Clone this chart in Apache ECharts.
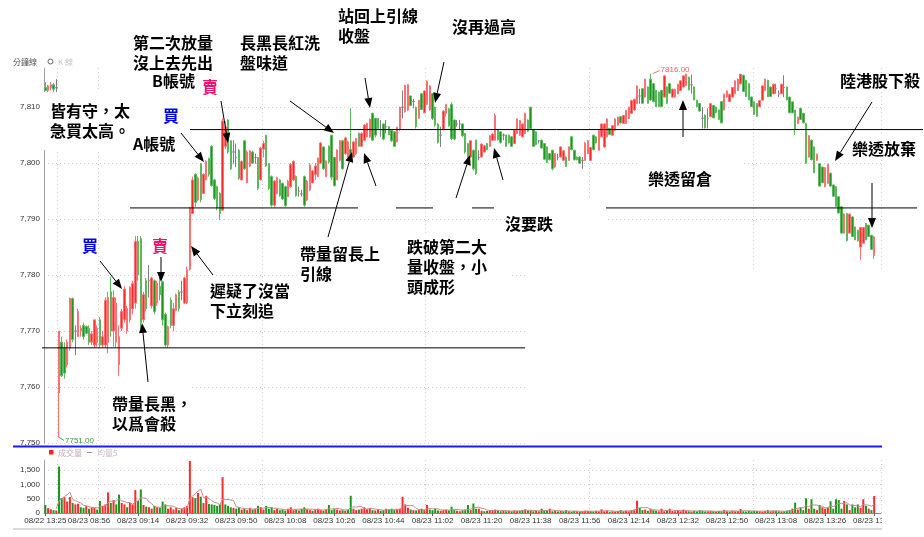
<!DOCTYPE html>
<html>
<head>
<meta charset="utf-8">
<script src="https://cdn.jsdelivr.net/npm/echarts@6/dist/echarts.min.js"></script>
<style>
html, body { margin: 0; padding: 0; background: #fff; }
#chart { width: 924px; height: 537px; }
</style>
</head>
<body>
<div id="chart"></div>
<script>
// ---- minute bars: last bars of 08/22, then the 08/23 session (08:45 - 13:44) ----
const prevDayTimes = ['08/22 13:25', '08/22 13:26', '08/22 13:27', '08/22 13:28', '08/22 13:29'];
const sessionTimes = [];
for (let m = 8 * 60 + 45; m <= 13 * 60 + 46; m++) {
  sessionTimes.push('08/23 ' + String(Math.floor(m / 60)).padStart(2, '0') + ':' + String(m % 60).padStart(2, '0'));
}
const categories = prevDayTimes.concat(sessionTimes);

const tickLabels = ['08/22 13:25', '08/23 08:56', '08/23 09:14', '08/23 09:32', '08/23 09:50', '08/23 10:08',
  '08/23 10:26', '08/23 10:44', '08/23 11:02', '08/23 11:20', '08/23 11:38', '08/23 11:56', '08/23 12:14',
  '08/23 12:32', '08/23 12:50', '08/23 13:08', '08/23 13:26', '08/23 13:44'];
// session open and the hour marks get a vertical guide
const guideTimes = ['08/23 08:45', '08/23 09:00', '08/23 10:00', '08/23 11:00', '08/23 12:00', '08/23 13:00'];

const opens = [
  7813.5, 7813, 7813.5, 7814, 7813.5, 7759, 7768, 7767, 7764, 7767,
  7775.8, 7770, 7769, 7770, 7771, 7770.8, 7770.5, 7768, 7767.5, 7768,
  7772, 7767.5, 7767.5, 7768, 7777, 7770, 7768, 7764, 7770.5, 7772,
  7770, 7772, 7774, 7775, 7786, 7786.5, 7772, 7779, 7779, 7774.5,
  7779, 7775, 7778, 7778.8, 7773, 7767.5, 7775.5, 7771, 7773.7, 7777,
  7777, 7775, 7775, 7781, 7791, 7798, 7793.4, 7799.9, 7794.6, 7797,
  7800.8, 7803, 7797, 7795.8, 7794.6, 7791.6, 7803, 7807.7, 7804, 7802,
  7801, 7802.3, 7797, 7804, 7796.5, 7799.5, 7802, 7801, 7801, 7797,
  7802.5, 7805, 7799.9, 7797.6, 7792.5, 7794.6, 7797, 7796.4, 7795.8, 7794,
  7795.8, 7797, 7797.6, 7795, 7794.5, 7797.6, 7793.4, 7795.2, 7796.5, 7798,
  7797.6, 7800, 7802.9, 7797.6, 7803, 7805, 7801, 7797, 7800.5, 7804,
  7801.7, 7801.2, 7802.5, 7801.1, 7801.7, 7805.3, 7803, 7804.1, 7804.7, 7804.7,
  7808.9, 7808, 7808, 7806, 7807, 7806.5, 7806.5, 7805.9, 7805.6, 7803.8,
  7806, 7810, 7809.2, 7809.5, 7812, 7811, 7810, 7808, 7812.4, 7809,
  7810.5, 7809.5, 7812.4, 7810, 7807, 7805, 7806, 7808.9, 7809.7, 7810.5,
  7807.7, 7807, 7807, 7807, 7805.3, 7803.5, 7801.1, 7802.3, 7804.1, 7801,
  7801.1, 7802, 7803.5, 7803, 7804.1, 7804.1, 7806, 7805.6, 7805, 7805,
  7805, 7804.7, 7803.5, 7805.3, 7805, 7804.7, 7805.3, 7807.7, 7810, 7806,
  7805.6, 7804, 7804.1, 7803.5, 7802.9, 7801.7, 7802.3, 7799.3, 7801, 7801.1,
  7800.5, 7801.1, 7800.5, 7804.7, 7802.3, 7801.1, 7801.1, 7800.5, 7800.5, 7801.7,
  7800.5, 7805, 7804.7, 7802.3, 7804.7, 7802.9, 7804.7, 7806.2, 7805, 7805.9,
  7806.8, 7808.3, 7807.1, 7807.1, 7808, 7808.9, 7809.5, 7810.65, 7812, 7813.3,
  7811.8, 7813.6, 7815, 7814.2, 7813, 7812.7, 7813, 7811.8, 7813.6, 7814.2,
  7811.8, 7811.8, 7812.4, 7813, 7813.6, 7813.9, 7815.4, 7814, 7813.6, 7811.25,
  7810.65, 7808, 7808.6, 7808, 7808.3, 7810.3, 7810, 7809.5, 7811, 7809.5,
  7811.8, 7811, 7811.8, 7812.4, 7813, 7814.2, 7815.7, 7814.8, 7814.2, 7811.8,
  7810.95, 7810.65, 7810.06, 7811.25, 7813, 7814.8, 7813.6, 7812.4, 7813.3, 7812.4,
  7812.4, 7813.5, 7813.6, 7811.8, 7810.95, 7809.5, 7807.1, 7809.8, 7808.9, 7807.1,
  7801.1, 7804.1, 7802.9, 7800.5, 7799.9, 7799.3, 7795.8, 7796.4, 7798.2, 7796.1,
  7795.8, 7794, 7792.2, 7787.5, 7791, 7787.5, 7790.4, 7788.6, 7788, 7785,
  7785.7, 7789.2, 7788.9, 7787.1, 7783.5
];
const highs = [
  7814.5, 7814, 7814.5, 7814.3, 7815, 7770, 7769, 7768, 7768.5, 7776,
  7776, 7771, 7774, 7771, 7771.5, 7771, 7771, 7770, 7772, 7771,
  7772.5, 7770, 7776, 7777, 7779.7, 7777.3, 7776, 7771, 7774, 7778,
  7774.5, 7778, 7779, 7787, 7787, 7787, 7777, 7779.5, 7781.8, 7779.7,
  7779.2, 7779, 7779.5, 7779, 7773.3, 7771, 7776, 7775, 7776.7, 7777.3,
  7779, 7779.7, 7781.5, 7792.2, 7797.6, 7798.2, 7797.6, 7800, 7798.2, 7800.5,
  7801, 7803.2, 7797.2, 7796, 7794.8, 7808, 7807.5, 7807.9, 7804.1, 7804.1,
  7803.5, 7802.5, 7800.5, 7804.1, 7802.3, 7802.3, 7802.2, 7801.7, 7801.1, 7802.9,
  7804, 7805, 7800, 7797.8, 7797, 7797.6, 7797.2, 7796.5, 7796, 7797,
  7800, 7800.5, 7797.8, 7795.8, 7795.2, 7797.8, 7797, 7800, 7798.8, 7800,
  7801, 7803.8, 7803, 7800.5, 7803.2, 7805, 7801.1, 7802.5, 7804.1, 7804.2,
  7804.7, 7804, 7809.8, 7804, 7804.5, 7805.5, 7805.5, 7807, 7807.2, 7808,
  7809, 7808.1, 7808, 7807.7, 7807.1, 7807.7, 7806.6, 7806, 7805.7, 7806.5,
  7810.1, 7813, 7814, 7814.1, 7812.1, 7811.5, 7810.1, 7811.3, 7812.5, 7813,
  7814.8, 7813.9, 7812.5, 7810.1, 7807.1, 7806.5, 7809.5, 7810.6, 7809.8, 7810.9,
  7807.8, 7807.7, 7807.7, 7807.1, 7805.4, 7803.6, 7804.1, 7802.4, 7804.2, 7802.3,
  7803.5, 7803.2, 7803.6, 7805, 7805.3, 7808.9, 7806.1, 7805.7, 7805.3, 7805.1,
  7805.1, 7804.8, 7806, 7808, 7807.7, 7807.1, 7809, 7807.8, 7810.1, 7806.1,
  7805.7, 7804.1, 7804.2, 7803.6, 7803, 7801.8, 7802.4, 7801.8, 7801.7, 7803,
  7802.3, 7801.2, 7803, 7804.8, 7802.4, 7801.2, 7801.2, 7801.1, 7803.8, 7804.1,
  7802.9, 7805.1, 7804.8, 7805.9, 7807.1, 7807.1, 7808, 7806.3, 7806.8, 7808,
  7808.3, 7808.4, 7808.6, 7809.5, 7810.1, 7811.3, 7811.5, 7813.9, 7813.3, 7813.4,
  7815.1, 7813.7, 7816, 7814.3, 7813.1, 7812.8, 7813.1, 7815.7, 7813.7, 7814.3,
  7813.3, 7813.3, 7814.2, 7814.8, 7815.7, 7815.9, 7815.4, 7815.8, 7813.7, 7811.3,
  7810.7, 7810, 7808.7, 7809.8, 7810.7, 7810.4, 7810.1, 7809.6, 7811, 7812.4,
  7813, 7812.4, 7813.6, 7814.8, 7815.1, 7815.9, 7815.8, 7814.9, 7814.3, 7811.9,
  7811, 7810.7, 7811.3, 7813.9, 7815.1, 7814.9, 7813.7, 7814.2, 7814.2, 7813,
  7814.2, 7815.7, 7813.7, 7811.9, 7811, 7809.5, 7808.3, 7809.8, 7809, 7807.2,
  7805, 7804.2, 7803, 7801.7, 7800, 7799.4, 7799.3, 7799.9, 7798.3, 7796.2,
  7795.9, 7794.1, 7792.3, 7791, 7791.1, 7791, 7790.5, 7788.7, 7788.1, 7788.6,
  7788.6, 7789.3, 7789, 7787.2, 7787
];
const lows = [
  7813, 7812.5, 7813, 7812.6, 7812.5, 7751, 7761.8, 7761.5, 7763.5, 7766.5,
  7768, 7765.7, 7769, 7769, 7768.5, 7769.5, 7767.5, 7767.5, 7767, 7767.2,
  7767, 7767, 7767, 7766, 7769, 7767.2, 7767, 7762, 7770, 7771.5,
  7769.5, 7771.5, 7773, 7774, 7779, 7770.5, 7771.5, 7773.5, 7776, 7774,
  7773, 7774.5, 7775.5, 7771, 7767.2, 7767, 7770.5, 7770, 7773.5, 7773.5,
  7775.5, 7774.8, 7774.8, 7780.8, 7791, 7792.2, 7793.2, 7793, 7794.5, 7797,
  7797.6, 7795.8, 7793.4, 7791.6, 7789.8, 7791.5, 7802.5, 7801.7, 7798.8, 7799.9,
  7799.3, 7797, 7797, 7798.8, 7796.4, 7799.3, 7799.9, 7799.9, 7795.2, 7797,
  7801, 7799.3, 7795.2, 7792.2, 7792.2, 7794.5, 7794, 7793.4, 7792.2, 7794,
  7795.6, 7796.8, 7794, 7794, 7794, 7792.2, 7793.2, 7795, 7796.4, 7797,
  7797.5, 7799.9, 7798.8, 7797.5, 7799.9, 7797, 7795.8, 7797, 7800.3, 7798.8,
  7801.5, 7801, 7801, 7801, 7801.5, 7802.9, 7802.9, 7804, 7804.6, 7804.5,
  7804, 7804.6, 7806, 7804.7, 7804.1, 7805.3, 7805, 7803.8, 7802.9, 7803.7,
  7805.8, 7808, 7809, 7809.3, 7810.2, 7809.8, 7806.2, 7807.9, 7809.5, 7808.9,
  7810.4, 7809.4, 7807.7, 7806.5, 7803.5, 7802.9, 7805.9, 7808.3, 7806.5, 7804.1,
  7804.1, 7806.5, 7805.9, 7804.7, 7801.7, 7800.5, 7801, 7798.7, 7797.9, 7800.5,
  7801, 7801.9, 7802.3, 7802.9, 7804, 7804, 7804, 7803.5, 7804.1, 7802.9,
  7803.5, 7802.9, 7803.4, 7805.2, 7804.9, 7804.6, 7805.2, 7805.6, 7806, 7802.9,
  7803.2, 7803.5, 7802.6, 7800.5, 7800, 7800.5, 7798.7, 7799.2, 7800.5, 7801,
  7800.4, 7799.3, 7800.4, 7802.3, 7800.5, 7800.5, 7799.9, 7799, 7800.4, 7801.6,
  7800.4, 7802.3, 7803.5, 7802.2, 7804.6, 7802.8, 7804.6, 7805, 7804.9, 7805.8,
  7806.7, 7807.1, 7807, 7807, 7807.9, 7808.8, 7809.4, 7810.6, 7810.6, 7810.6,
  7811.7, 7810.6, 7811.2, 7810.9, 7810, 7810, 7810, 7811.7, 7810.6, 7812.4,
  7811.7, 7811.7, 7812.3, 7812.9, 7813.5, 7813.8, 7813, 7812.4, 7811.25, 7810.06,
  7809.2, 7806.2, 7806.2, 7806.2, 7808.2, 7808, 7808.9, 7807.7, 7807.1, 7809.4,
  7811.7, 7810.9, 7811.7, 7812.3, 7812.9, 7814.1, 7812.7, 7811.8, 7811.25, 7810.06,
  7808.6, 7808.3, 7810, 7811.2, 7812.9, 7811.8, 7811.8, 7812.3, 7812.4, 7811.8,
  7812.3, 7811.8, 7811.25, 7808.9, 7808.9, 7805, 7807, 7807.7, 7807.1, 7799.9,
  7801, 7800.5, 7798.2, 7800.4, 7795.8, 7796.4, 7795.7, 7796.3, 7795.8, 7794,
  7792.2, 7791, 7787.4, 7787.4, 7786, 7787.4, 7786.8, 7786.25, 7786, 7782.7,
  7785.6, 7786.25, 7786.8, 7784.5, 7782.9
];
const closes = [
  7813, 7813.8, 7814, 7813.2, 7813.5, 7770, 7762, 7762.5, 7768, 7775.8,
  7768.5, 7770, 7773.5, 7770.5, 7769, 7769.6, 7768, 7769.5, 7772, 7770.5,
  7767.5, 7769, 7775.5, 7776, 7770, 7776, 7775, 7769, 7773.5, 7777.5,
  7774, 7777.8, 7778.5, 7786, 7780, 7771.5, 7776.5, 7774, 7779, 7779.5,
  7773.5, 7778.5, 7776.5, 7772, 7767.5, 7770.8, 7771, 7774, 7776.5, 7774,
  7777, 7779.5, 7781, 7792, 7797, 7793, 7797.3, 7793.5, 7798, 7800.3,
  7798, 7796, 7793.7, 7792, 7791, 7807.5, 7806.5, 7802, 7799, 7802,
  7801, 7797.3, 7800.3, 7799, 7802, 7802.2, 7800, 7801, 7795.5, 7802.7,
  7803.5, 7799.5, 7795.5, 7792.5, 7796.8, 7797.4, 7794.2, 7793.6, 7792.4, 7796.8,
  7799.8, 7800.3, 7794.2, 7795, 7794.5, 7792.5, 7796.8, 7799.7, 7798.6, 7799.5,
  7800.9, 7803.6, 7799, 7800.4, 7800.2, 7797.5, 7796, 7802.3, 7804, 7799,
  7804.5, 7803.8, 7801.5, 7803.8, 7804.4, 7803, 7805.3, 7806.8, 7807.1, 7807.8,
  7804.1, 7805, 7806.2, 7806, 7804.3, 7806.5, 7805.1, 7804, 7803, 7806.4,
  7810, 7810, 7813.9, 7814, 7810.3, 7811, 7806.5, 7811.2, 7809.6, 7812.9,
  7814.6, 7813.8, 7808, 7806.8, 7803.7, 7805, 7809.3, 7810.5, 7806.7, 7804.4,
  7804.3, 7807, 7807, 7804.9, 7802, 7800.7, 7804, 7799, 7798.2, 7801,
  7803.4, 7803.1, 7802.4, 7804.9, 7805.2, 7808.5, 7804.2, 7803.7, 7805, 7803,
  7803.6, 7803, 7805.9, 7807.9, 7807.6, 7807, 7808.9, 7805.7, 7806.2, 7803,
  7803.3, 7804, 7802.7, 7800.7, 7800.1, 7800.6, 7799, 7801.7, 7801, 7802.9,
  7802.2, 7799.4, 7802.9, 7802.4, 7800.6, 7800.6, 7800, 7800.5, 7803.6, 7804,
  7802.8, 7802.4, 7803.6, 7805.8, 7807, 7807, 7807.9, 7805.1, 7806.7, 7807.9,
  7808.2, 7807.2, 7808.5, 7809.4, 7810, 7811.2, 7811.4, 7813.8, 7812, 7810.7,
  7815, 7810.7, 7811.3, 7811, 7810.1, 7810.1, 7810.1, 7815.6, 7810.7, 7812.5,
  7813.2, 7813.2, 7814.1, 7814.7, 7815.6, 7815.9, 7813.1, 7814, 7811.3, 7810.1,
  7809.3, 7808, 7806.3, 7808, 7810.6, 7808.1, 7809, 7807.8, 7807.2, 7812.3,
  7812.9, 7812.3, 7813.5, 7814.7, 7815, 7815.9, 7812.8, 7811.9, 7811.3, 7810.1,
  7808.7, 7808.4, 7811.2, 7813.8, 7815, 7811.9, 7811.9, 7814.1, 7813.3, 7812.4,
  7814.1, 7813.5, 7811.3, 7809, 7809, 7806, 7808.2, 7807.8, 7807.2, 7800,
  7804.9, 7800.6, 7798.3, 7801.6, 7795.9, 7796.5, 7799.2, 7799.8, 7795.9, 7794.1,
  7792.3, 7791.1, 7787.5, 7790.9, 7786.2, 7790.9, 7786.9, 7786.3, 7786.1, 7788.5,
  7788.5, 7786.3, 7786.9, 7784.6, 7786.8
];
const volumes = [
  280, 170, 130, 100, 90, 1620, 520, 550, 400, 560,
  350, 300, 320, 200, 180, 250, 150, 200, 180, 120,
  420, 250, 300, 720, 350, 450, 300, 640, 350, 300,
  200, 350, 300, 800, 420, 820, 280, 220, 200, 150,
  250, 200, 180, 400, 300, 150, 200, 120, 180, 100,
  150, 200, 250, 1815, 550, 520, 700, 570, 350, 600,
  320, 300, 280, 250, 300, 1250, 300, 250, 200, 180,
  150, 200, 120, 150, 100, 180, 120, 150, 250, 200,
  120, 250, 150, 200, 100, 150, 100, 120, 80, 150,
  200, 100, 120, 90, 150, 200, 130, 100, 80, 120,
  150, 100, 80, 120, 280, 100, 150, 120, 90, 100,
  80, 120, 600, 150, 100, 120, 150, 200, 130, 180,
  100, 90, 120, 80, 100, 150, 120, 150, 100, 130,
  150, 570, 300, 180, 120, 100, 90, 120, 150, 100,
  280, 120, 100, 150, 90, 80, 100, 120, 90, 220,
  100, 80, 60, 90, 120, 280, 100, 330, 150, 150,
  80, 60, 70, 90, 100, 120, 80, 60, 70, 60,
  80, 60, 90, 70, 80, 100, 130, 80, 90, 60,
  70, 60, 150, 80, 70, 150, 60, 80, 50, 70,
  60, 100, 60, 50, 70, 60, 50, 60, 80, 70,
  60, 50, 70, 60, 130, 60, 80, 40, 60, 50,
  70, 100, 60, 80, 60, 100, 120, 430, 180, 100,
  120, 80, 150, 100, 80, 60, 150, 60, 80, 150,
  70, 60, 80, 60, 120, 80, 60, 50, 70, 60,
  100, 80, 50, 60, 70, 60, 50, 70, 60, 110,
  60, 50, 80, 60, 70, 140, 60, 50, 70, 60,
  80, 70, 60, 50, 70, 100, 60, 80, 70, 60,
  50, 60, 80, 100, 150, 360, 120, 200, 100, 512,
  150, 480, 150, 100, 280, 200, 150, 200, 410, 150,
  480, 450, 150, 420, 300, 100, 300, 200, 300, 180,
  480, 250, 150, 100, 593
];
// support / resistance levels drawn across the chart
const levelUpper = 7806, levelMiddle = 7792, levelLower = 7767;

// ---- derived series ----
const candleData = opens.map((o, i) => [o, closes[i], lows[i], highs[i]]);
const upColor = '#ff2a2a', downColor = '#1c961c';
const volumeData = volumes.map((v, i) => {
  const ref = i === 0 ? opens[0] : closes[i - 1];
  return { value: v, itemStyle: { color: closes[i] >= ref ? upColor : downColor } };
});
// 5-bar average volume
const volumeMA5 = volumes.map((v, i) => {
  if (i < 4) return '-';
  let s = 0;
  for (let k = i - 4; k <= i; k++) s += volumes[k];
  return +(s / 5).toFixed(1);
});

const showTick = (idx, val) => tickLabels.indexOf(val) >= 0;
const showGuide = (idx, val) => guideTimes.indexOf(val) >= 0;
const gridDots = { color: '#dcc8d0', type: [1, 3], width: 1 };
const axisFont = { fontFamily: 'Liberation Sans', fontSize: 8, color: '#333' };

const chart = echarts.init(document.getElementById('chart'));
chart.setOption({
  animation: false,
  backgroundColor: '#fff',
  grid: [
    { left: 44, top: 68, width: 837, height: 375 },
    { left: 44, top: 460, width: 837, height: 53 }
  ],
  xAxis: [
    {
      type: 'category', gridIndex: 0, data: categories, boundaryGap: true,
      axisLine: { show: false }, axisTick: { show: false }, axisLabel: { show: false },
      splitLine: { show: true, interval: showGuide, lineStyle: gridDots }
    },
    {
      type: 'category', gridIndex: 1, data: categories, boundaryGap: true,
      axisLine: { show: true, lineStyle: { color: '#8a8a8a', width: 1 } },
      axisTick: { show: true, alignWithLabel: true, interval: showTick, length: 3, lineStyle: { color: '#666' } },
      axisLabel: Object.assign({ interval: showTick, margin: 4 }, axisFont),
      splitLine: { show: true, interval: showGuide, lineStyle: gridDots }
    }
  ],
  yAxis: [
    {
      type: 'value', gridIndex: 0, min: 7750, max: 7817, interval: 10,
      axisLine: { show: true, lineStyle: { color: '#a0a0a0' } },
      axisTick: { show: false },
      axisLabel: Object.assign({ margin: 4, showMaxLabel: false, formatter: v => v.toLocaleString('en-US') }, axisFont),
      splitLine: { show: true, showMaxLine: false, lineStyle: gridDots }
    },
    {
      type: 'value', gridIndex: 1, min: 0, max: 1850, interval: 500,
      axisLine: { show: true, lineStyle: { color: '#a0a0a0' } },
      axisTick: { show: false },
      axisLabel: Object.assign({ margin: 4, showMaxLabel: false, formatter: v => v.toLocaleString('en-US') }, axisFont),
      splitLine: { show: true, showMaxLine: false, showMinLine: false, lineStyle: gridDots }
    }
  ],
  series: [
    {
      type: 'candlestick', xAxisIndex: 0, yAxisIndex: 0, data: candleData, barWidth: 2, silent: true,
      itemStyle: {
        color: upColor, color0: downColor,
        borderColor: '#ff7070', borderColor0: '#5cb85c', borderColorDoji: '#808080', borderWidth: 1
      }
    },
    {
      type: 'bar', xAxisIndex: 1, yAxisIndex: 1, data: volumeData, barWidth: 2, silent: true
    },
    {
      type: 'line', xAxisIndex: 1, yAxisIndex: 1, data: volumeMA5, symbol: 'none', silent: true,
      lineStyle: { color: '#c38c8c', width: 1 }
    }
  ]
});

// ---- annotation layer ----
const cjk = '"Noto Sans CJK TC", "Noto Sans CJK SC", sans-serif';
const g = [];
const Z = 50;

function cover(x, y, w, h) {
  g.push({ type: 'rect', z: Z, silent: true, shape: { x, y, width: w, height: h }, style: { fill: '#fff' } });
}
function hline(x1, x2, y, color, width) {
  g.push({ type: 'line', z: Z + 1, silent: true, shape: { x1, y1: y, x2, y2: y }, style: { stroke: color, lineWidth: width } });
}
function arrow(x1, y1, x2, y2) {
  const a = Math.atan2(y2 - y1, x2 - x1), len = 10, half = 4;
  const bx = x2 - len * Math.cos(a), by = y2 - len * Math.sin(a);
  const px = -Math.sin(a) * half, py = Math.cos(a) * half;
  g.push({ type: 'line', z: Z + 2, silent: true, shape: { x1, y1, x2: bx, y2: by }, style: { stroke: '#000', lineWidth: 1 } });
  g.push({ type: 'polygon', z: Z + 2, silent: true, shape: { points: [[x2, y2], [bx + px, by + py], [bx - px, by - py]] }, style: { fill: '#000' } });
}
function note(text, x, y, color) {
  g.push({
    type: 'text', z: Z + 3, silent: true,
    style: { text, x, y, fill: color || '#000', font: 'bold 16px ' + cjk, lineHeight: 20, align: 'left', verticalAlign: 'top' }
  });
}
function small(text, x, y, color, font) {
  g.push({ type: 'text', z: Z + 3, silent: true,
    style: { text, x, y, fill: color, font: font || ('8px ' + cjk), align: 'left', verticalAlign: 'middle' } });
}

// white backing behind the hand-written notes
cover(43, 92, 147, 58);
cover(105, 385, 85, 50);
cover(298, 236, 212, 60);
cover(527, 200, 79, 72);
cover(527, 272, 357, 172);
cover(637, 148, 106, 52);
cover(852, 135, 72, 25);
cover(882, 515, 42, 22);

// pane separator and scroll strip
g.push({ type: 'line', z: Z + 1, silent: true, shape: { x1: 13, y1: 446.5, x2: 882, y2: 446.5 }, style: { stroke: '#1a1aff', lineWidth: 2 } });
g.push({ type: 'rect', z: Z + 1, silent: true, shape: { x: 13, y: 528, width: 869, height: 2 }, style: { fill: '#d9d9d9' } });

// support / resistance lines
const yUpper = chart.convertToPixel({ yAxisIndex: 0 }, levelUpper);
const yMiddle = chart.convertToPixel({ yAxisIndex: 0 }, levelMiddle);
const yLower = chart.convertToPixel({ yAxisIndex: 0 }, levelLower);
hline(190, 923, yUpper, '#000', 1);
[[130, 358], [396, 433], [472, 494], [606, 917]].forEach(s => hline(s[0], s[1], yMiddle, '#000', 1));
hline(42, 525, yLower, '#000', 1);

// session low / high tags
let lowIdx = 0, highIdx = 0;
lows.forEach((v, i) => { if (v < lows[lowIdx]) lowIdx = i; });
highs.forEach((v, i) => { if (v > highs[highIdx]) highIdx = i; });
const pLow = chart.convertToPixel({ gridIndex: 0 }, [lowIdx, lows[lowIdx]]);
const pHigh = chart.convertToPixel({ gridIndex: 0 }, [highIdx, highs[highIdx]]);
g.push({ type: 'line', z: Z + 2, silent: true, shape: { x1: pLow[0], y1: pLow[1], x2: pLow[0] + 5, y2: pLow[1] + 3 }, style: { stroke: '#3fa83f', lineWidth: 1 } });
small(lows[lowIdx].toFixed(2), pLow[0] + 6, pLow[1] + 3.5, '#3a9a3a', '8px Liberation Sans');
g.push({ type: 'line', z: Z + 2, silent: true, shape: { x1: pHigh[0] + 2, y1: pHigh[1], x2: pHigh[0] + 9, y2: pHigh[1] - 3 }, style: { stroke: '#ff7070', lineWidth: 1 } });
small(highs[highIdx].toFixed(2), pHigh[0] + 10, pHigh[1] - 3.5, '#ff5a5a', '8px Liberation Sans');

// pane captions
small('分鐘線', 13, 61.5, '#555');
g.push({ type: 'circle', z: Z + 3, silent: true, shape: { cx: 50.5, cy: 61.5, r: 2.5 }, style: { fill: 'none', stroke: '#666', lineWidth: 1 } });
small('K 線', 58, 61.5, '#c4c4c4');
g.push({ type: 'rect', z: Z + 3, silent: true, shape: { x: 49, y: 450, width: 4.5, height: 4.5 }, style: { fill: '#ff2020' } });
small('成交量', 58, 452.5, '#caa7af');
g.push({ type: 'line', z: Z + 3, silent: true, shape: { x1: 87, y1: 452.5, x2: 92, y2: 452.5 }, style: { stroke: '#b58585', lineWidth: 1 } });
small('均量5', 97, 452.5, '#cdb8bf');

// notes
note('第二次放量\n沒上去先出', 133, 33);
note('長黑長紅洗\n盤味道', 240, 33);
note('B帳號', 152, 71);
note('賣', 202, 77, '#f2126b');
note('皆有守，太\n急買太高。', 50, 101);
note('買', 163, 106, '#0000f0');
note('A帳號', 133, 134);
note('買', 82, 236, '#0000f0');
note('賣', 152, 236, '#f2126b');
note('遲疑了沒當\n下立刻追', 210, 281);
note('帶量長黑，\n以爲會殺', 112, 394);
note('站回上引線\n收盤', 338, 6);
note('沒再過高', 452, 17);
note('帶量留長上\n引線', 300, 244);
note('跌破第二大\n量收盤，小\n頭成形', 407, 237);
note('沒要跌', 505, 214);
note('樂透留倉', 648, 169);
note('陸港股下殺', 840, 71);
note('樂透放棄', 852, 139);

arrow(100, 261, 122, 289);
arrow(161, 257, 161, 282);
arrow(148, 382, 142, 323);
arrow(213, 275, 191, 246);
arrow(181, 133, 204, 162);
arrow(221, 101, 228, 143);
arrow(290, 101, 334, 133);
arrow(365, 78, 370, 108);
arrow(444, 62, 435, 103);
arrow(328, 237, 352, 152);
arrow(376, 186, 364, 153);
arrow(456, 198, 470, 155);
arrow(503, 180, 494, 148);
arrow(683, 137, 683, 100);
arrow(872, 102, 835, 161);
arrow(872, 183, 872, 228);

chart.setOption({ graphic: { elements: g } });
</script>
</body>
</html>
